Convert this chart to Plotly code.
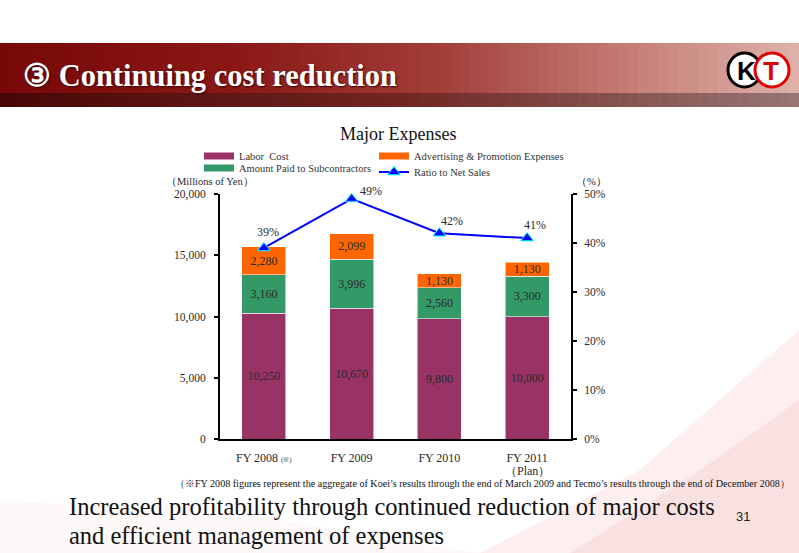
import plotly.graph_objects as go

# ---------------- data ----------------
categories = ["FY 2008", "FY 2009", "FY 2010", "FY 2011"]
tick_labels = ["FY 2008 <span style='font-size:7px'>(※)</span>", "FY 2009", "FY 2010",
               "FY 2011"]
plan_note = "（Plan）"
labor_cost = [10250, 10670, 9800, 10000]
subcontractors = [3160, 3996, 2560, 3300]
advertising = [2280, 2099, 1130, 1130]
ratio_net_sales = [39, 49, 42, 41]

# ---------------- geometry helpers (pixels -> paper) ----------------
W, H = 799, 553
L, R, T, B = 220, 571, 194, 439


def px(x):
    return (x - L) / (R - L)


def py(y):
    return (B - y) / (B - T)


SERIF = "Liberation Serif"
TXT = "#2a2a2a"

fig = go.Figure()

bar_common = dict(marker_line=dict(color="rgba(255,255,255,0.55)", width=1),
                  texttemplate="%{y:,}", textposition="inside",
                  insidetextanchor="middle", constraintext="none",
                  textfont=dict(family=SERIF, size=12, color=TXT),
                  showlegend=False, hoverinfo="skip", width=0.5)

fig.add_trace(go.Bar(x=categories, y=labor_cost, name="Labor  Cost",
                     marker_color="#993366", **bar_common))
fig.add_trace(go.Bar(x=categories, y=subcontractors, name="Amount Paid to Subcontractors",
                     marker_color="#339966", **bar_common))
fig.add_trace(go.Bar(x=categories, y=advertising, name="Advertising & Promotion Expenses",
                     marker_color="#FF6600", **bar_common))

fig.add_trace(go.Scatter(x=categories, y=ratio_net_sales, yaxis="y2", mode="lines+markers",
                         name="Ratio to Net Sales", legend="legend4",
                         line=dict(color="#0000FF", width=2),
                         marker=dict(symbol="triangle-up", size=11, color="#0000FF",
                                     line=dict(color="#00FFFF", width=1)),
                         cliponaxis=False, hoverinfo="skip"))

# legend proxies (wide colour swatches like the original)
for nm, col, lg in [("Labor  Cost", "#993366", "legend"),
                    ("Amount Paid to Subcontractors", "#339966", "legend2"),
                    ("Advertising & Promotion Expenses", "#FF6600", "legend3")]:
    fig.add_trace(go.Scatter(x=[None], y=[None], mode="lines", name=nm, legend=lg,
                             line=dict(color=col, width=7), hoverinfo="skip"))

# percentage labels
shifts = [(4, 16), (19, 8), (13, 12), (8, 13)]
annotations = []
for c, v, (dx, dy) in zip(categories, ratio_net_sales, shifts):
    annotations.append(dict(x=c, y=v, yref="y2", xref="x", text=f"{v}%", showarrow=False,
                            xshift=dx, yshift=dy, font=dict(family=SERIF, size=12, color=TXT)))

# "(Plan)" under the last category label
annotations.append(dict(x=categories[-1], xref="x", yref="paper", y=py(471), text=plan_note,
                        showarrow=False, yanchor="middle",
                        font=dict(family=SERIF, size=12, color=TXT)))

# ---------------- decorations ----------------
shapes = []


def lerp_color(stops, t):
    for i in range(len(stops) - 1):
        t0, c0 = stops[i]
        t1, c1 = stops[i + 1]
        if t0 <= t <= t1:
            f = (t - t0) / (t1 - t0) if t1 > t0 else 0
            return "rgb(%d,%d,%d)" % tuple(round(a + (b - a) * f) for a, b in zip(c0, c1))
    return "rgb(%d,%d,%d)" % stops[-1][1]


band_stops = [(0, (120, 8, 8)), (0.3, (138, 24, 22)), (0.55, (162, 62, 58)),
              (0.8, (198, 128, 120)), (1.0, (222, 178, 170))]
stripe_stops = [(0, (72, 6, 6)), (0.5, (112, 38, 34)), (1.0, (150, 118, 116))]
N = 80
for i in range(N):
    x0 = W * i / N
    x1 = W * (i + 1) / N + 0.6
    t = (i + 0.5) / N
    shapes.append(dict(type="rect", xref="paper", yref="paper", x0=px(x0), x1=px(x1),
                       y0=py(93), y1=py(43), fillcolor=lerp_color(band_stops, t),
                       line_width=0, layer="below"))
    shapes.append(dict(type="rect", xref="paper", yref="paper", x0=px(x0), x1=px(x1),
                       y0=py(107), y1=py(93), fillcolor=lerp_color(stripe_stops, t),
                       line_width=0, layer="below"))


def path(points):
    return "M " + " L ".join(f"{px(x)},{py(y)}" for x, y in points) + " Z"


# soft pink background swooshes
shapes.append(dict(type="path", xref="paper", yref="paper",
                   path=path([(480, 553), (640, 470), (799, 330), (799, 553)]),
                   fillcolor="rgba(235,120,120,0.12)", line_width=0, layer="below"))
shapes.append(dict(type="path", xref="paper", yref="paper",
                   path=path([(570, 553), (700, 470), (799, 400), (799, 553)]),
                   fillcolor="rgba(230,110,110,0.10)", line_width=0, layer="below"))
shapes.append(dict(type="path", xref="paper", yref="paper",
                   path=path([(0, 500), (250, 515), (480, 553), (0, 553)]),
                   fillcolor="rgba(235,160,160,0.06)", line_width=0, layer="below"))

# logo
shapes.append(dict(type="circle", xref="paper", yref="paper", x0=px(728), x1=px(761),
                   y0=py(87), y1=py(53), fillcolor="white", line=dict(color="black", width=3)))
shapes.append(dict(type="circle", xref="paper", yref="paper", x0=px(755), x1=px(789),
                   y0=py(87), y1=py(53), fillcolor="white", line=dict(color="#e00000", width=3)))


def ann(x, y, text, size, color="#111", family=SERIF, xanchor="center", **kw):
    annotations.append(dict(xref="paper", yref="paper", x=px(x), y=py(y), text=text,
                            xanchor=xanchor, yanchor="middle", showarrow=False,
                            font=dict(family=family, size=size, color=color, **kw)))


ann(746, 71, "<b>K</b>", 26, "black", "Liberation Sans")
ann(771, 71, "<b>T</b>", 26, "#e00000", "Liberation Sans")

# header title
ann(21, 76, "<b>③ Continuing cost reduction</b>", 30.5, "white", xanchor="left",
    shadow="1px 1px 2px #300")
# chart title
ann(398, 134, "Major Expenses", 18)
# axis unit labels
ann(164, 181, "（Millions of Yen）", 10.5, TXT, xanchor="left")
ann(574, 181, "（%）", 10.5, TXT, xanchor="left")
# footnote
ann(792, 483, "（※FY 2008 figures represent the aggregate of Koei’s results through the end of "
              "March 2009 and Tecmo’s results through the end of December 2008）", 10.1,
    xanchor="right")
# conclusion text
ann(67, 506, "Increased profitability through continued reduction of major costs", 24.5,
    xanchor="left")
ann(67, 535, "and efficient management of expenses", 24.5, xanchor="left")
ann(743, 516, "31", 13, "#222", "Liberation Sans")

legend_font = dict(family=SERIF, size=10.5, color="#333")
leg_common = dict(font=legend_font, bgcolor="rgba(0,0,0,0)", xanchor="left", yanchor="middle",
                  itemwidth=30, borderwidth=0, tracegroupgap=0)

fig.update_layout(
    width=W, height=H,
    margin=dict(l=L, r=W - R, t=T, b=H - B, pad=0),
    paper_bgcolor="white", plot_bgcolor="rgba(0,0,0,0)",
    barmode="stack", bargap=0.5,
    shapes=shapes, annotations=annotations,
    showlegend=True,
    legend=dict(x=px(199), y=py(156), **leg_common),
    legend2=dict(x=px(199), y=py(168), **leg_common),
    legend3=dict(x=px(374), y=py(156), **leg_common),
    legend4=dict(x=px(374), y=py(172), **leg_common),
    xaxis=dict(showline=True, linecolor="black", linewidth=2, ticks="",
               tickvals=categories, ticktext=tick_labels, showgrid=False,
               tickfont=dict(family=SERIF, size=12, color=TXT), ticklabelstandoff=7,
               range=[-0.5, 3.5], fixedrange=True),
    yaxis=dict(range=[0, 20000], dtick=5000, tickformat=",", showline=True, linecolor="black",
               linewidth=2, ticks="outside", ticklen=4, tickwidth=2, tickcolor="black",
               showgrid=False, zeroline=False, ticklabelstandoff=6,
               tickfont=dict(family=SERIF, size=11.5, color=TXT)),
    yaxis2=dict(range=[0, 50], dtick=10, ticksuffix="%", overlaying="y", side="right",
                showline=True, linecolor="black", linewidth=2, ticks="outside", ticklen=4,
                tickwidth=2, tickcolor="black", showgrid=False, zeroline=False,
                ticklabelstandoff=5, tickfont=dict(family=SERIF, size=11.5, color=TXT)),
)

fig.write_html("out.html")
